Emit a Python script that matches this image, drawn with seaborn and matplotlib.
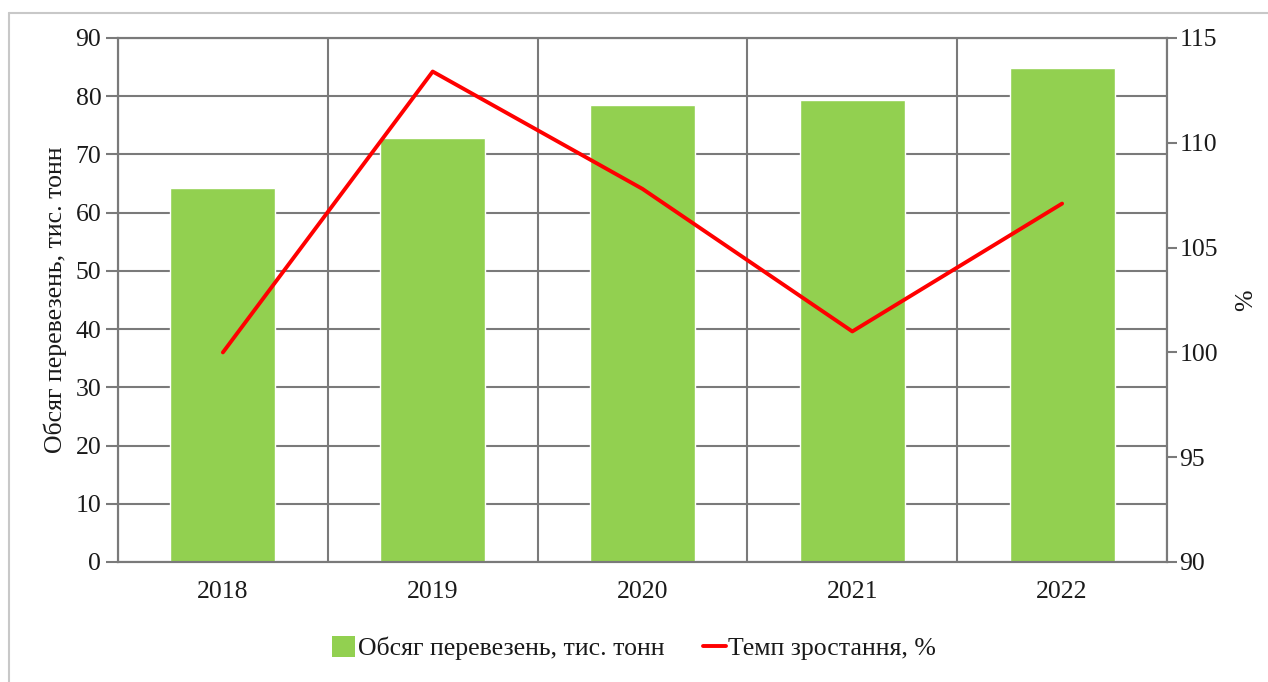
import numpy as np
import pandas as pd
import matplotlib
matplotlib.use("Agg")
import matplotlib.pyplot as plt
from matplotlib.lines import Line2D
from matplotlib.patches import Patch
import seaborn as sns

# ==========================================
# Дані
# ==========================================
years = ["2018", "2019", "2020", "2021", "2022"]
volume = [64.2, 72.8, 78.5, 79.4, 84.9]          # Обсяг перевезень, тис. тонн
growth = [100.0, 113.4, 107.8, 101.0, 107.1]     # Темп зростання, %

bar_label = "Обсяг перевезень, тис. тонн"
line_label = "Темп зростання, %"

BAR_COLOR = "#92D050"
LINE_COLOR = "#FF0000"
GRID_COLOR = "#7a7a7a"
TEXT_COLOR = "#1a1a1a"
FS = 18.5

sns.set_theme(style="white")
plt.rcParams['font.family'] = ['Liberation Serif', 'DejaVu Serif']
plt.rcParams['font.size'] = FS
plt.rcParams['text.color'] = TEXT_COLOR

df = pd.DataFrame({"year": years, "volume": volume, "growth": growth})

fig = plt.figure(figsize=(12.68, 6.82), dpi=100)
ax = fig.add_axes([118 / 1268, 1 - 562 / 682, (1167 - 118) / 1268, (562 - 38) / 682])

sns.barplot(data=df, x="year", y="volume", color=BAR_COLOR, width=0.5,
            saturation=1, ax=ax, zorder=2)
ax.set_axisbelow(True)
ax.set_ylim(0, 90)
ax.set_xlim(-0.5, len(years) - 0.5)
ax.set_yticks(np.arange(0, 91, 10))
ax.set_xlabel("")
ax.set_ylabel(bar_label, fontsize=FS, labelpad=6, color=TEXT_COLOR)

# сітка: горизонтальна по лівій осі, вертикальна по межах категорій
ax.set_xticks(np.arange(-0.5, len(years), 1), minor=True)
ax.grid(axis="y", color=GRID_COLOR, linewidth=1.5)
ax.grid(axis="x", which="minor", color=GRID_COLOR, linewidth=1.5)
ax.tick_params(axis="x", which="major", length=0, pad=14, labelsize=FS, labelcolor=TEXT_COLOR)
ax.tick_params(axis="x", which="minor", length=7, color=GRID_COLOR, direction="out", width=1.5)
ax.tick_params(axis="y", length=9, color=GRID_COLOR, direction="out", width=1.5, left=True,
               pad=3, labelsize=FS, labelcolor=TEXT_COLOR)

for side in ["left", "bottom", "right", "top"]:
    ax.spines[side].set_color(GRID_COLOR)
    ax.spines[side].set_linewidth(1.5)

# права вісь: темп зростання
ax2 = ax.twinx()
sns.lineplot(x=np.arange(len(years)), y=growth, color=LINE_COLOR, linewidth=2.8, ax=ax2)
ax2.set_ylim(90, 115)
ax2.set_yticks(np.arange(90, 116, 5))
ax2.set_ylabel("%", fontsize=FS, labelpad=12, color=TEXT_COLOR)
ax2.tick_params(axis="y", length=7, color=GRID_COLOR, direction="out", width=1.5, right=True,
                pad=2, labelsize=FS, labelcolor=TEXT_COLOR)
for side in ["left", "bottom", "right", "top"]:
    ax2.spines[side].set_color(GRID_COLOR)
    ax2.spines[side].set_linewidth(1.5)
ax2.grid(False)

# легенда
handles = [Patch(facecolor=BAR_COLOR, edgecolor="none"),
           Line2D([0], [0], color=LINE_COLOR, linewidth=2.8)]
fig.legend(handles, [bar_label, line_label], loc="center",
           bbox_to_anchor=(0.5, 1 - 648 / 682), ncol=2, frameon=False,
           fontsize=FS, handlelength=0.9, handleheight=0.9, handletextpad=0.1,
           columnspacing=1.5)

# рамка рисунка (ліва та верхня межі)
fig.add_artist(Line2D([9 / 1268, 9 / 1268], [0, 1 - 13 / 682], color="#c8c8c8", linewidth=1.5))
fig.add_artist(Line2D([9 / 1268, 1], [1 - 13 / 682, 1 - 13 / 682], color="#c8c8c8", linewidth=1.5))

fig.savefig("out.png", dpi=100)
